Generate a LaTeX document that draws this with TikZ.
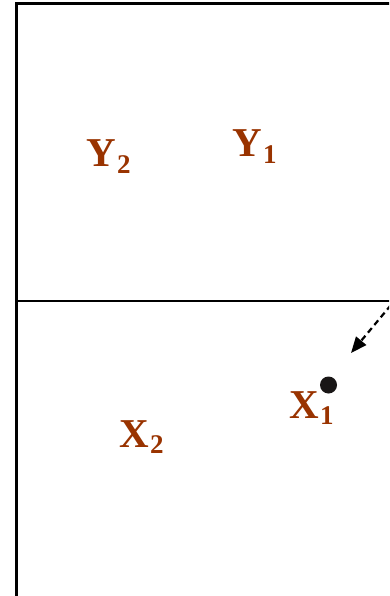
\documentclass[tikz,border=0pt]{standalone}
\usepackage{fontspec}
\setmainfont{Liberation Serif}
\usetikzlibrary{arrows.meta}
\definecolor{labelbrown}{RGB}{153,51,0}
\definecolor{dotblack}{RGB}{25,22,22}
\newcommand{\lbl}[2]{{\fontsize{41}{41}\selectfont\bfseries #1}\kern1pt\raisebox{-6.5pt}{\fontsize{27}{27}\selectfont\bfseries #2}}
\tikzset{
  frameline/.style={line width=2.2pt, black},
  varlabel/.style={anchor=base west, inner sep=0pt, outer sep=0pt, text=labelbrown},
  dasharrow/.style={line width=2.2pt, dash pattern=on 6pt off 4pt, -{Triangle[length=16pt,width=13pt]}},
}
\begin{document}
\begin{tikzpicture}[x=1pt,y=-1pt]
\useasboundingbox (0,0) rectangle (389,596);
\clip (0,0) rectangle (389,596);
\fill[white] (0,0) rectangle (389,596);
% frame
\coordinate (tl) at (16.5,3.5);
\coordinate (tr) at (395,3.5);
\coordinate (bl) at (16.5,600);
\coordinate (ml) at (16.5,300.5);
\coordinate (mr) at (395,300.5);
\draw[frameline] (tr) -- (tl) -- (bl);
\draw[line width=2pt] (ml) -- (mr);
% labels
\node[varlabel] (y2) at (86.5,167) {\lbl{Y}{2}};
\node[varlabel] (y1) at (232.5,157) {\lbl{Y}{1}};
\node[varlabel] (x2) at (119.5,447) {\lbl{X}{2}};
\node[varlabel] (x1) at (289.5,418) {\lbl{X}{1}};
% point
\node[circle, fill=dotblack, minimum size=17pt, inner sep=0pt] (pt) at (328.5,385) {};
% dashed arrow
\coordinate (astart) at (391,305);
\coordinate (atip) at (351,353);
\draw[dasharrow] (astart) -- (atip);
\end{tikzpicture}
\end{document}
